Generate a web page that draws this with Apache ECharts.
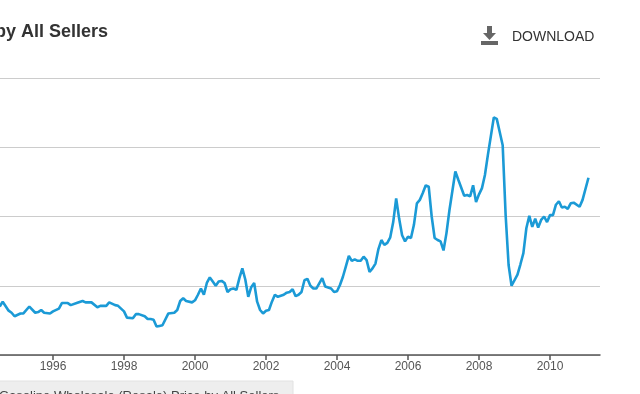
<!DOCTYPE html>
<html>
<head>
<meta charset="utf-8">
<script src="https://cdn.jsdelivr.net/npm/echarts@6/dist/echarts.min.js"></script>
<style>
html,body{margin:0;padding:0;background:#fff;}
#chart{width:640px;height:394px;}
</style>
</head>
<body>
<div id="chart"></div>
<script>
// Data, dollars per gallon
const months = ["1994-07","1994-08","1994-10","1994-11","1994-12","1995-02","1995-03","1995-05","1995-07","1995-08","1995-09","1995-10","1995-12",
"1996-01","1996-03","1996-04","1996-06","1996-07","1996-09","1996-11","1996-12",
"1997-02","1997-04","1997-05","1997-07","1997-08","1997-10","1997-11",
"1998-01","1998-02","1998-04","1998-05","1998-06","1998-08","1998-09","1998-10","1998-11","1998-12",
"1999-01","1999-02","1999-04","1999-06","1999-07","1999-08","1999-09","1999-10","1999-12",
"2000-01","2000-02","2000-03","2000-04","2000-05","2000-06","2000-07","2000-08","2000-09","2000-10","2000-11","2000-12",
"2001-01","2001-02","2001-03","2001-04","2001-05","2001-06","2001-07","2001-08","2001-09","2001-10","2001-11","2001-12",
"2002-01","2002-02","2002-03","2002-04","2002-05","2002-07","2002-08","2002-09","2002-10","2002-11","2002-12",
"2003-01","2003-02","2003-03","2003-04","2003-05","2003-06","2003-08","2003-09","2003-11","2003-12",
"2004-01","2004-02","2004-03","2004-04","2004-05","2004-06","2004-07","2004-08","2004-09","2004-10","2004-11","2004-12",
"2005-01","2005-02","2005-03","2005-04","2005-05","2005-06","2005-07","2005-08","2005-09","2005-10","2005-11","2005-12",
"2006-01","2006-02","2006-03","2006-04","2006-05","2006-06","2006-07","2006-08","2006-09","2006-10","2006-11","2006-12",
"2007-01","2007-02","2007-03","2007-05","2007-06","2007-08","2007-09","2007-10","2007-11","2007-12",
"2008-01","2008-02","2008-03","2008-04","2008-06","2008-07","2008-08","2008-09","2008-10","2008-11","2008-12",
"2009-02","2009-03","2009-04","2009-05","2009-06","2009-07","2009-08","2009-09","2009-10","2009-11","2009-12",
"2010-01","2010-02","2010-03","2010-04","2010-05","2010-06","2010-07","2010-08","2010-09","2010-11","2010-12",
"2011-02"];
const prices = [0.70,0.77,0.64,0.61,0.56,0.60,0.60,0.70,0.61,0.62,0.65,0.61,0.60,
0.63,0.67,0.75,0.75,0.72,0.75,0.78,0.76,
0.76,0.69,0.71,0.71,0.76,0.72,0.71,
0.63,0.54,0.53,0.59,0.59,0.56,0.52,0.52,0.51,0.41,
0.42,0.43,0.60,0.61,0.65,0.78,0.82,0.78,0.76,
0.79,0.87,0.96,0.87,1.04,1.12,1.06,1.00,1.06,1.07,1.04,0.91,
0.95,0.96,0.94,1.11,1.25,1.09,0.84,0.98,1.04,0.77,0.65,0.60,
0.64,0.65,0.77,0.87,0.84,0.87,0.90,0.91,0.95,0.85,0.87,
0.91,1.08,1.10,1.00,0.96,0.96,1.11,0.99,0.96,0.91,
0.92,1.01,1.13,1.28,1.43,1.36,1.38,1.36,1.36,1.42,1.37,1.20,
1.25,1.32,1.53,1.66,1.59,1.62,1.70,1.92,2.26,1.97,1.73,1.64,
1.71,1.69,1.88,2.19,2.24,2.34,2.45,2.43,2.00,1.69,1.66,1.64,
1.51,1.76,2.09,2.65,2.53,2.30,2.31,2.29,2.45,2.21,
2.32,2.41,2.60,2.89,3.43,3.41,3.22,3.03,2.02,1.30,1.00,
1.16,1.31,1.47,1.83,2.01,1.85,1.97,1.84,1.95,2.00,1.92,
2.02,2.02,2.17,2.22,2.13,2.14,2.11,2.19,2.20,2.14,2.24,
2.56];
const yearTicks = [1996,1998,2000,2002,2004,2006,2008,2010];
const titleText = "Gasoline Wholesale (Resale) Price by All Sellers";
const legendText = "Gasoline Wholesale (Resale) Price by All Sellers";

function toDecimalYear(s){const p=s.split('-');return (+p[0]) + (+p[1]-1)/12;}
const seriesData = months.map((m,i)=>[toDecimalYear(m), prices[i]]);

const chart = echarts.init(document.getElementById('chart'), null, {renderer:'canvas'});
const FONT = 'Liberation Sans, Arial, sans-serif';
chart.setOption({
  animation:false,
  backgroundColor:'#ffffff',
  grid:{left:0,right:40,top:78,bottom:39,containLabel:false},
  xAxis:{
    type:'value', min:1994.507, max:2011.408,
    axisLine:{show:true,lineStyle:{color:'#555',width:1.5}},
    axisTick:{show:true,length:5,lineStyle:{color:'#555',width:1.5},customValues:yearTicks},
    axisLabel:{show:true,color:'#555',fontSize:12,fontFamily:FONT,margin:6,customValues:yearTicks,formatter:v=>String(Math.round(v))},
    splitLine:{show:false}
  },
  yAxis:{
    type:'value', min:0, max:4, interval:1,
    axisLine:{show:false}, axisTick:{show:false}, axisLabel:{show:false},
    splitLine:{show:true,lineStyle:{color:'#cccccc',width:1}}
  },
  series:[{
    type:'line', data:seriesData, showSymbol:false, symbol:'none',
    lineStyle:{color:'#1b9ad6',width:2.6}, itemStyle:{color:'#1b9ad6'},
    clip:true
  }],
  graphic:[
    {type:'text', x:108, y:32, style:{text:titleText, fill:'#333', font:'bold 18px '+FONT, textAlign:'right', textVerticalAlign:'middle'}},
    {type:'group', x:481, y:26, children:[
      {type:'rect', shape:{x:6,y:0,width:5,height:8}, style:{fill:'#666'}},
      {type:'polygon', shape:{points:[[2,7],[15,7],[8.5,14]]}, style:{fill:'#666'}},
      {type:'rect', shape:{x:0,y:15,width:17,height:4}, style:{fill:'#666'}}
    ]},
    {type:'text', x:512, y:37, style:{text:'DOWNLOAD', fill:'#333', font:'14px '+FONT, textVerticalAlign:'middle'}},
    {type:'rect', shape:{x:-5,y:381,width:298,height:30}, style:{fill:'#eeeeee', stroke:'#e2e2e2', lineWidth:1}},
    {type:'text', x:-1, y:390, style:{text:legendText, fill:'#444', font:'13px '+FONT, textVerticalAlign:'top'}}
  ]
});
</script>
</body>
</html>
